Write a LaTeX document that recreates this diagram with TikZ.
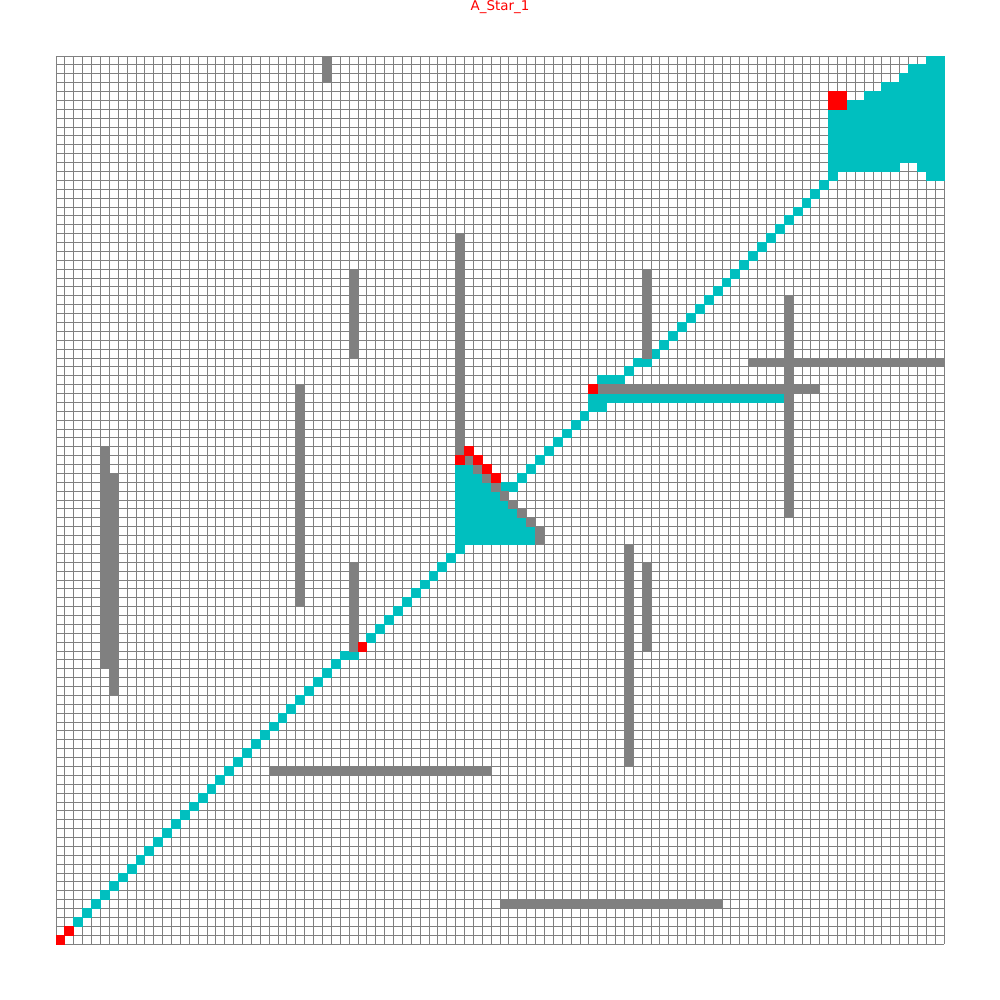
\documentclass[tikz,border=0pt]{standalone}
\usepackage{fontspec}
\setmainfont{DejaVu Sans}
\usepackage{tikz}

\definecolor{seenc}{rgb}{0,0.75,0.75}
\definecolor{wallc}{rgb}{0.5,0.5,0.5}

\begin{document}
\begin{tikzpicture}[x=0.0888in,y=0.0888in,
  wallcell/.style={fill=wallc,draw=wallc,line width=0.6pt},
  seencell/.style={fill=seenc,draw=seenc,line width=0.6pt},
  keycell/.style={fill=red,draw=red,line width=0.6pt}]
 \useasboundingbox (-6.306,-6.306) rectangle (106.306,106.306);
 % grid
 \foreach \k in {0,...,100} {
   \draw[wallc,line width=0.6pt] (\k,0) -- (\k,100);
   \draw[wallc,line width=0.6pt] (0,\k) -- (100,\k);
 }
 % explored cells
 \foreach \k in {2,...,31} \path[seencell] (\k,\k) rectangle ++(1,1);
 \foreach \k in {34,...,43} \path[seencell] (\k+1,\k) rectangle ++(1,1);
 \foreach \k in {52,...,59} \path[seencell] (\k,\k) rectangle ++(1,1);
 \foreach \k in {66,...,85} \path[seencell] (\k+1,\k) rectangle ++(1,1);
 \foreach \c/\r in {32/32,33/32,45/44,50/51,51/51,60/60,61/60,64/64,65/65,66/65,87/86}
   \path[seencell] (\c,\r) rectangle ++(1,1);
 \path[seencell] (45,45) rectangle (54,46);
 \foreach \r in {46,...,53} \path[seencell] (45,\r) rectangle ({100-\r},\r+1);
 \path[seencell] (60,61) rectangle (82,62);
 \path[seencell] (61,63) rectangle (64,64);
 \path[seencell] (87,88) rectangle (100,94);
 \foreach \a/\r in {89/94,91/95,93/96,95/97,96/98,98/99}
   \path[seencell] (\a,\r) rectangle (100,\r+1);
 \path[seencell] (87,87) rectangle (95,88);
 \path[seencell] (97,87) rectangle (100,88);
 \path[seencell] (98,86) rectangle (100,87);
 % obstacles
 \path[wallcell] (30,97) rectangle (31,100);
 \path[wallcell] (33,66) rectangle (34,76);
 \path[wallcell] (33,33) rectangle (34,43);
 \path[wallcell] (45,55) rectangle (46,80);
 \path[wallcell] (27,38) rectangle (28,63);
 \path[wallcell] (5,31) rectangle (6,56);
 \path[wallcell] (6,28) rectangle (7,53);
 \path[wallcell] (64,20) rectangle (65,45);
 \path[wallcell] (66,33) rectangle (67,43);
 \path[wallcell] (66,66) rectangle (67,76);
 \path[wallcell] (82,48) rectangle (83,73);
 \path[wallcell] (78,65) rectangle (100,66);
 \path[wallcell] (61,62) rectangle (86,63);
 \path[wallcell] (24,19) rectangle (49,20);
 \path[wallcell] (50,4) rectangle (75,5);
 \foreach \k in {46,...,54} \path[wallcell] (\k,100-\k) rectangle ++(1,1);
 \path[wallcell] (54,45) rectangle (55,46);
 % marked cells
 \foreach \c/\r in {0/0,1/1,34/33,45/54,46/55,47/54,48/53,49/52,60/62}
   \path[keycell] (\c,\r) rectangle ++(1,1);
 \path[keycell] (87,94) rectangle (89,96);
 \node[red,font=\fontsize{9.7}{11}\selectfont,anchor=base] (title) at (50,105.15) {A\_Star\_1};
\end{tikzpicture}
\end{document}
